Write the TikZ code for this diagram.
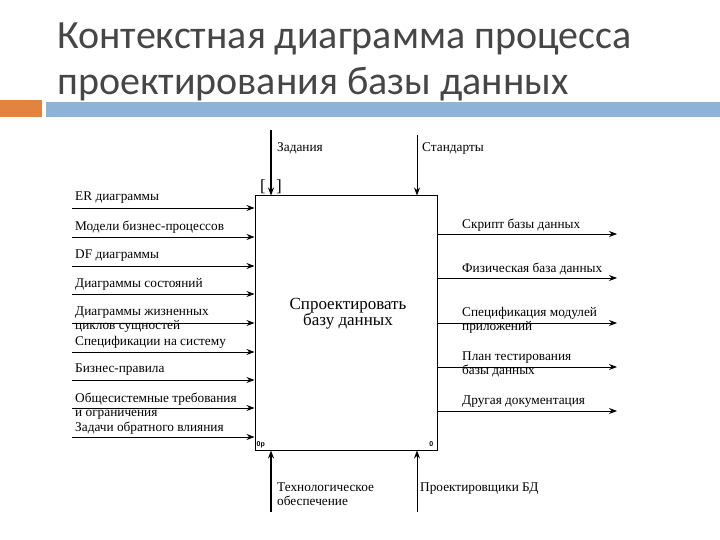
\documentclass[tikz,border=0pt]{standalone}
\usepackage{fontspec}
\setmainfont{Liberation Serif}
\newfontfamily\titlefont{Carlito}
\newfontfamily\tagfont{Liberation Sans}
\usetikzlibrary{arrows.meta}

\definecolor{barorange}{HTML}{E48340}
\definecolor{barblue}{HTML}{8DB4D8}
\definecolor{titlegray}{HTML}{464646}

\tikzset{
  lab/.style={font=\fontsize{13.3}{14}\selectfont, inner sep=0pt,
    anchor=west, align=left},
  flow/.style={-{Stealth[length=8pt,width=6pt]}, line width=0.9pt},
  heavy/.style={flow, line width=1.6pt},
  ttl/.style={font=\titlefont\fontsize{40}{44}\selectfont, text=titlegray,
    inner sep=0pt, anchor=base west},
}

\begin{document}
\begin{tikzpicture}[x=1pt,y=-1pt]
  \useasboundingbox (0,0) rectangle (720,540);

  % title and bars
  \node[ttl] (title1) at (57,49) {Контекстная диаграмма процесса};
  \node[ttl] (title2) at (57,95) {проектирования базы данных};
  \fill[barorange] (0,100) rectangle (42,117);
  \fill[barblue] (46,102) rectangle (720,117);

  % activity
  \node[draw, line width=1pt, minimum width=182pt, minimum height=254pt,
    inner sep=0pt] (act) at (346,323) {};
  \node[font=\fontsize{17}{16}\selectfont, align=center, inner sep=0pt]
    (actname) at (348,314) {Спроектировать\\базу данных};
  \node[font=\tagfont\bfseries\fontsize{7}{8}\selectfont, anchor=south west,
    inner sep=2pt] (num1) at (act.south west) {0p};
  \node[font=\tagfont\bfseries\fontsize{7}{8}\selectfont, anchor=south east,
    inner sep=4pt] (num2) at (act.south east) {0};

  % inputs
  \foreach \y/\dy/\t [count=\i] in {
      208/-10/{ER диаграммы},
      237/-10/{Модели бизнес-процессов},
      266/-10/{DF диаграммы},
      294/-10/{Диаграммы состояний},
      323/-3/{Диаграммы жизненных\\циклов сущностей},
      352/-10/{Спецификации на систему},
      380/-10/{Бизнес-правила},
      408/-2/{Общесистемные требования\\и ограничения},
      437/-9/{Задачи обратного влияния}} {
    \coordinate (in\i) at (72,\y);
    \draw[flow] (in\i) -- (in\i -| act.west);
    \node[lab] (inlab\i) at (75,\y+\dy) {\t};
  }

  % outputs
  \foreach \y/\dy/\t [count=\i] in {
      234/-9/{Скрипт базы данных},
      278/-9/{Физическая база данных},
      323/-3/{Спецификация модулей\\приложений},
      367/-3/{План тестирования\\базы данных},
      411/-9/{Другая документация}} {
    \coordinate (out\i) at (617,\y);
    \draw[flow] (out\i -| act.east) -- (out\i);
    \node[lab] (outlab\i) at (462,\y+\dy) {\t};
  }

  % controls
  \coordinate (ctl1) at (271,130);
  \coordinate (ctl2) at (417,135);
  \draw[heavy] (ctl1) -- (ctl1 |- act.north);
  \draw[flow] (ctl2) -- (ctl2 |- act.north);
  \node[lab, anchor=base west] (ctllab1) at (277,152) {Задания};
  \node[lab, anchor=base west] (ctllab2) at (422,152) {Стандарты};
  \node[font=\fontsize{17}{17}\selectfont, inner sep=0pt] (brl) at (263,187) {[};
  \node[font=\fontsize{17}{17}\selectfont, inner sep=0pt] (brr) at (279,187) {]};

  % mechanisms
  \coordinate (mech1) at (271,512);
  \coordinate (mech2) at (417,512);
  \draw[heavy] (mech1) -- (mech1 |- act.south);
  \draw[flow] (mech2) -- (mech2 |- act.south);
  \node[lab] (mechlab1) at (277,494) {Технологическое\\обеспечение};
  \node[lab] (mechlab2) at (420,489) {Проектировщики БД};
\end{tikzpicture}
\end{document}
